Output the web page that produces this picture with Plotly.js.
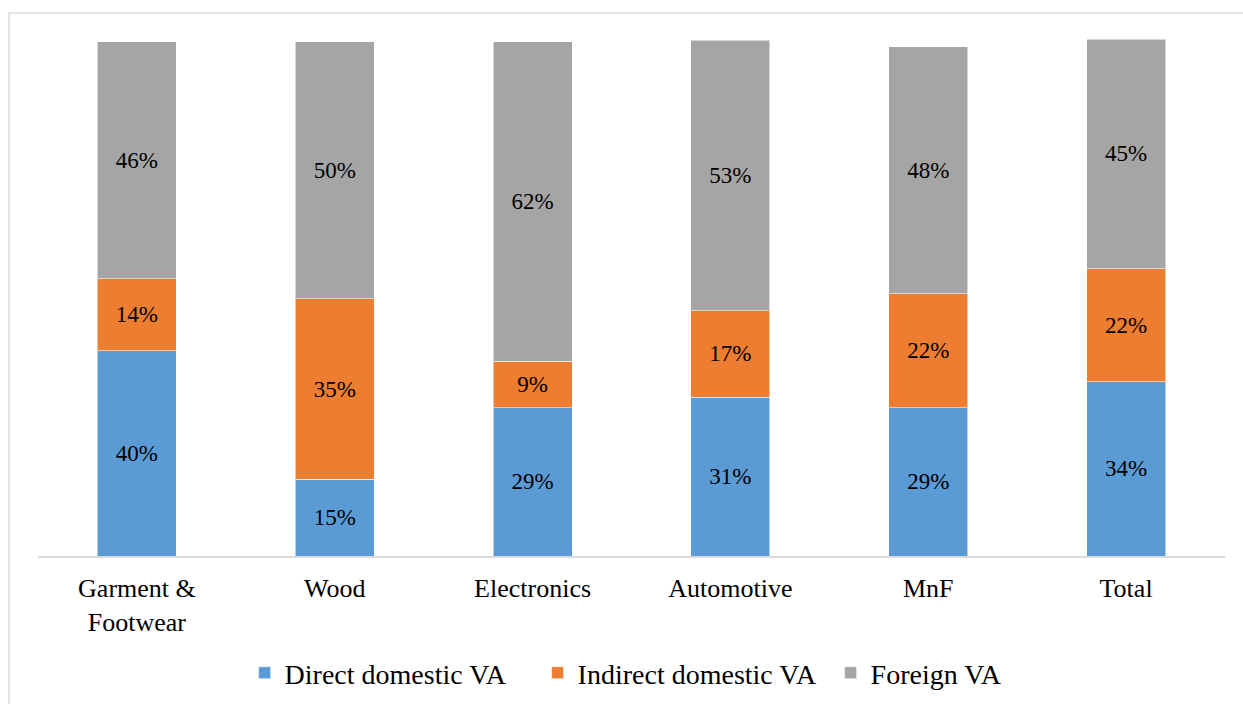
<!DOCTYPE html>
<html>
<head>
<meta charset="utf-8">
<script src="https://cdn.plot.ly/plotly-3.0.1.min.js"></script>
<style>
  html, body { margin: 0; padding: 0; background: #ffffff; }
  #chart { width: 1243px; height: 704px; }
</style>
</head>
<body>
<div id="chart"></div>
<script>
// Categories (x axis)
var categories = ["Garment &<br>Footwear", "Wood", "Electronics", "Automotive", "MnF", "Total"];

// Series values (% of value added)
var directDomesticVA   = [39.9, 14.9, 28.8, 30.9, 28.8, 33.9];
var indirectDomesticVA = [14.0, 35.1,  9.1, 16.8, 22.2, 22.0];
var foreignVA          = [46.1, 50.0, 62.1, 52.6, 48.0, 44.6];

var seriesNames = ["Direct domestic VA", "Indirect domestic VA", "Foreign VA"];
var seriesColors = ["#5B9BD5", "#ED7D31", "#A5A5A5"];
var seriesValues = [directDomesticVA, indirectDomesticVA, foreignVA];

var FONT = "Liberation Serif, Times New Roman, serif";

var traces = seriesValues.map(function (vals, i) {
  return {
    type: "bar",
    name: seriesNames[i],
    x: categories,
    y: vals,
    marker: { color: seriesColors[i], line: { color: "rgba(255,255,255,0.55)", width: 1 } },
    texttemplate: "%{y:.0f}%",
    textposition: "inside",
    insidetextanchor: "middle",
    constraintext: "none",
    textangle: 0,
    textfont: { family: FONT, size: 23, color: "#000000" },
    hoverinfo: "x+y+name"
  };
});

var layout = {
  width: 1243,
  height: 704,
  barmode: "stack",
  bargap: 0.6,
  paper_bgcolor: "#ffffff",
  plot_bgcolor: "#ffffff",
  margin: { l: 38, r: 18, t: 16, b: 148 },
  font: { family: FONT, color: "#000000" },
  xaxis: {
    showline: true,
    linecolor: "#d9d9d9",
    linewidth: 1.5,
    ticks: "",
    showgrid: false,
    zeroline: false,
    tickfont: { family: FONT, size: 26, color: "#000000" },
    ticklabelstandoff: 8,
    fixedrange: true
  },
  yaxis: {
    visible: false,
    range: [0, 105],
    showgrid: false,
    zeroline: false,
    fixedrange: true
  },
  showlegend: true,
  legend: {
    orientation: "h",
    xref: "container",
    yref: "container",
    x: 0.1968,
    xanchor: "left",
    y: 1 - 673 / 704,
    yanchor: "middle",
    font: { family: FONT, size: 28, color: "#000000" },
    traceorder: "normal",
    entrywidth: 248,
    bgcolor: "rgba(0,0,0,0)"
  },
  shapes: [{
    type: "rect",
    xref: "paper",
    yref: "paper",
    x0: -0.0244,
    x1: 1.02,
    y0: -0.3,
    y1: 1.0056,
    line: { color: "#d9d9d9", width: 1.5 },
    fillcolor: "rgba(0,0,0,0)",
    layer: "below"
  }]
};

Plotly.newPlot("chart", traces, layout, { displayModeBar: false, staticPlot: true });
</script>
</body>
</html>
